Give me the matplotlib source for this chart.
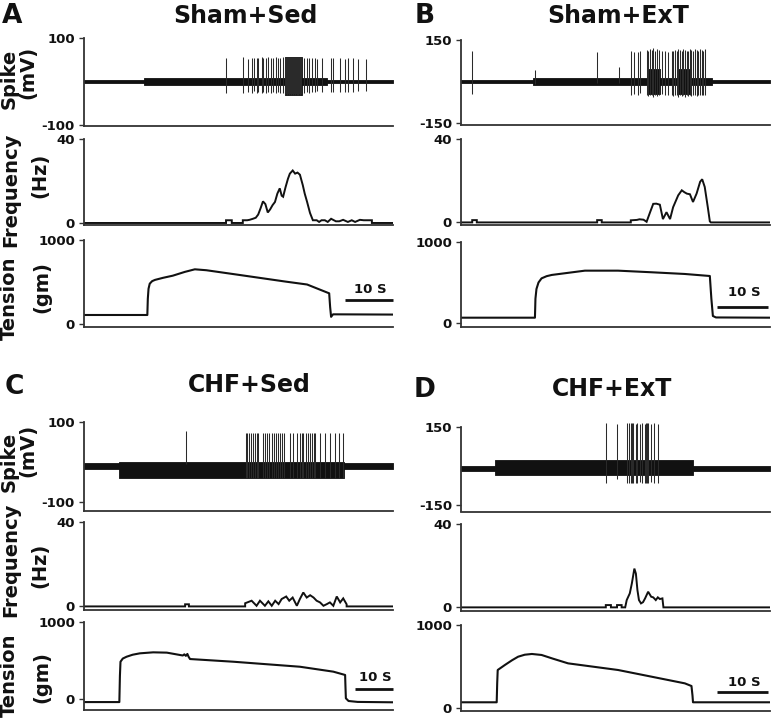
import matplotlib
matplotlib.use("Agg")
import matplotlib.pyplot as plt

plt.rcParams['font.family'] = ['DejaVu Sans']
plt.rcParams['font.weight'] = 'bold'

W, H = 771, 722

# ---------------- data ----------------
titles = ["Sham+Sed", "Sham+ExT", "CHF+Sed", "CHF+ExT"]
letters = ["A", "B", "C", "D"]
durations = [64.4, 60.6, 81.3, 60.6]          # s shown in each panel
spike_ticks = [(-100, 100), (-150, 150), (-100, 100), (-150, 150)]
freq_ticks = (0, 40)
tension_ticks = (0, 1000)

# baseline noise envelope segments: start, end, low, high (mV)
A_band_t0 = [0, 12.5, 50.6, 41.9]
A_band_t1 = [12.5, 50.6, 64.4, 45.4]
A_band_lo = [-3, -8, -3, -30]
A_band_hi = [3, 8, 3, 56]

B_band_t0 = [0, 14.1, 49.2, 36.4, 42.6]
B_band_t1 = [14.1, 49.2, 60.6, 39.0, 45.0]
B_band_lo = [-7, -14, -7, -45, -45]
B_band_hi = [7, 14, 7, 45, 45]

C_band_t0 = [0, 9.2, 68.4]
C_band_t1 = [9.2, 68.4, 81.3]
C_band_lo = [-17, -40, -17]
C_band_hi = [-3, 0, -3]

D_band_t0 = [0, 6.7, 45.5]
D_band_t1 = [6.7, 45.5, 60.6]
D_band_lo = [-18, -35, -18]
D_band_hi = [0, 23, 0]

# spikes: time (s), peak (mV), trough (mV)
A_spk_t = [29.6, 33.1, 34.2, 35.0, 35.4, 36.0, 36.3, 37.1, 37.3, 37.9, 38.3, 39.0, 39.4, 40.0,
           40.4, 40.8, 41.5, 41.9, 42.1, 42.3, 42.5, 42.7, 42.9, 43.1, 43.3, 43.5, 43.7, 43.9,
           44.1, 44.3, 44.5, 44.7, 44.9, 45.1, 45.3, 45.8, 46.5, 46.9, 47.5, 48.1, 48.5, 49.6,
           51.5, 51.9, 53.3, 54.4, 55.0, 56.0, 57.1, 58.8]
A_spk_up = [54, 56, 52, 55, 53, 55, 54, 56, 55, 53, 56, 54, 55, 56,
            54, 55, 56, 57, 56, 57, 56, 57, 56, 57, 56, 57, 56, 57,
            56, 57, 56, 57, 56, 57, 56, 55, 54, 55, 53, 54, 52, 55,
            53, 54, 53, 52, 54, 53, 52, 51]
A_spk_dn = [-26, -26, -24, -26, -22, -26, -25, -26, -24, -26, -25, -26, -24, -26,
            -25, -26, -26, -30, -29, -30, -29, -30, -29, -30, -29, -30, -29, -30,
            -29, -30, -29, -30, -29, -30, -29, -26, -24, -26, -25, -24, -22, -25,
            -24, -24, -23, -24, -24, -23, -22, -22]

B_spk_t = [2.2, 14.5, 26.7, 31.0, 33.3, 34.0, 34.8, 35.2, 36.4, 36.7, 37.1, 37.4, 37.7, 38.0,
           38.4, 38.9, 39.4, 40.0, 40.6, 41.3, 41.6, 42.0, 42.3, 42.6, 42.9, 43.3, 43.6, 43.9,
           44.3, 44.6, 44.9, 45.2, 45.5, 45.9, 46.2, 46.5, 46.9, 47.2, 47.5, 47.8]
B_spk_up = [110, 41, 107, 53, 110, 108, 105, 110, 115, 112, 118, 115, 120, 112,
            118, 115, 110, 112, 108, 110, 112, 115, 110, 118, 115, 112, 118, 115,
            112, 110, 118, 115, 112, 118, 115, 112, 118, 115, 110, 118]
B_spk_dn = [-45, -10, -5, -5, -50, -45, -48, -40, -50, -52, -48, -50, -55, -50,
            -52, -48, -45, -50, -48, -50, -52, -50, -48, -55, -50, -52, -50, -55,
            -50, -52, -50, -52, -48, -50, -52, -48, -50, -48, -50, -48]

C_spk_t = [26.8, 42.5, 43.0, 43.5, 43.9, 44.4, 45.0, 45.4, 45.9, 47.2, 47.6, 48.1, 48.8, 49.4,
           50.0, 50.5, 51.1, 51.6, 52.0, 52.5, 54.2, 55.1, 56.0, 56.7, 57.3, 57.7, 58.4, 59.0,
           59.5, 59.9, 60.4, 60.8, 62.1, 63.4, 64.7, 66.1, 67.2, 68.1]
C_spk_up = [77, 73, 72, 73, 72, 73, 72, 73, 72, 73, 72, 73, 72, 73,
            72, 73, 72, 73, 72, 73, 72, 73, 72, 73, 72, 73, 72, 73,
            72, 73, 72, 73, 72, 73, 72, 73, 72, 73]
C_spk_dn = [-5, -40, -40, -40, -40, -40, -40, -40, -40, -40, -40, -40, -40, -40,
            -40, -40, -40, -40, -40, -40, -40, -40, -40, -40, -40, -40, -40, -40,
            -40, -40, -40, -40, -40, -40, -40, -40, -40, -40]

D_spk_t = [28.4, 30.6, 32.6, 32.9, 33.3, 33.6, 33.8, 34.3, 34.6, 35.1, 35.4, 36.1, 36.3, 36.5,
           36.7, 37.2, 37.9, 38.7]
D_spk_up = [165, 160, 167, 165, 167, 165, 167, 163, 165, 162, 165, 163, 166, 165,
            167, 163, 165, 163]
D_spk_dn = [-67, -50, -67, -67, -67, -67, -67, -65, -67, -60, -67, -67, -67, -67,
            -65, -60, -67, -67]

# instantaneous frequency (Hz)
A_freq_t = [0, 29.6, 29.6, 30.8, 30.8, 33.1, 33.1, 34.0, 34.5, 35.2, 35.8, 36.3, 36.8, 37.3,
            37.8, 38.3, 38.8, 39.3, 39.8, 40.3, 40.8, 41.2, 41.5, 42.0, 42.5, 42.9, 43.5, 44.0,
            44.5, 45.0, 45.6, 46.0, 46.5, 47.1, 47.7, 48.5, 49.0, 49.5, 50.2, 50.8, 51.5, 52.5,
            53.2, 54.0, 55.0, 55.8, 56.5, 57.5, 58.3, 59.0, 60.0, 60.0, 64.4]
A_freq_v = [0, 0, 1.3, 1.3, 0, 0, 1.3, 1.3, 1.5, 2.0, 2.5, 4.0, 7.0, 10.3,
            9.0, 5.0, 6.5, 8.5, 10.0, 14.0, 16.5, 13.0, 12.5, 17.0, 21.0, 23.5, 25.0, 23.5,
            24.0, 23.0, 18.0, 14.0, 10.0, 4.8, 1.3, 1.3, 0.5, 1.3, 1.3, 0.5, 2.0, 0.8,
            0.8, 1.5, 0.5, 1.3, 0.5, 1.5, 1.3, 1.3, 1.3, 0, 0]

B_freq_t = [0, 2.2, 2.2, 3.1, 3.1, 26.7, 26.7, 27.6, 27.6, 33.3, 33.3, 34.5, 35.0, 35.8,
            36.4, 37.1, 37.7, 38.3, 39.0, 39.6, 40.3, 41.0, 41.6, 42.6, 43.3, 43.8, 44.3, 44.9,
            45.5, 46.2, 46.9, 47.3, 47.8, 48.4, 48.8, 49.0, 60.6]
B_freq_v = [0, 0, 1.1, 1.1, 0, 0, 1.1, 1.1, 0, 0, 1.0, 1.2, 1.5, 1.3,
            0.3, 5.0, 8.9, 9.0, 8.5, 1.6, 4.9, 1.6, 7.3, 13.0, 15.4, 14.5, 13.8, 13.5,
            9.8, 13.8, 19.5, 20.7, 17.0, 7.3, 0.5, 0, 0]

C_freq_t = [0, 26.6, 26.6, 27.6, 27.6, 42.4, 42.4, 44.1, 45.4, 46.3, 47.6, 48.5, 49.4, 50.3,
            51.2, 52.0, 53.2, 54.0, 54.9, 56.0, 56.8, 57.7, 58.6, 59.5, 60.4, 61.2, 62.1, 63.0,
            63.9, 64.7, 65.6, 66.5, 67.4, 68.2, 69.1, 69.1, 81.3]
C_freq_v = [0, 0, 1.0, 1.0, 0, 0, 1.5, 2.7, 0.3, 2.7, 0.3, 2.4, 0.3, 2.7,
            1.1, 3.5, 4.7, 2.7, 4.2, 0.3, 3.5, 6.6, 4.2, 5.3, 4.2, 2.7, 1.9, 0.3,
            1.1, 1.9, 0.3, 4.7, 1.9, 3.8, 1.0, 0, 0]

D_freq_t = [0, 28.4, 28.4, 29.4, 29.4, 30.6, 30.6, 31.5, 31.5, 32.2, 32.5, 33.1, 33.5, 34.0,
            34.3, 34.6, 34.9, 35.3, 35.7, 36.1, 36.7, 37.3, 37.7, 38.2, 38.6, 39.0, 39.5, 39.7, 60.6]
D_freq_v = [0, 0, 1.1, 1.1, 0, 0, 1.1, 1.1, 0, 0, 3.5, 6.7, 11.4, 18.6,
            16.2, 8.3, 3.5, 1.9, 2.5, 4.3, 7.5, 5.1, 4.8, 3.5, 4.8, 4.0, 4.3, 0, 0]

# muscle tension (gm)
A_ten_t = [0, 13.2, 13.3, 13.45, 13.7, 14.2, 14.8, 16.5, 18.5, 21.0, 23.1, 25.5, 32.5, 42.1,
           46.5, 51.1, 51.3, 51.5, 51.9, 64.4]
A_ten_v = [107, 107, 300, 420, 480, 510, 525, 550, 575, 620, 651, 640, 583, 504,
           470, 365, 200, 85, 115, 112]
B_ten_t = [0, 14.5, 14.6, 14.8, 15.2, 15.8, 16.8, 17.8, 24.3, 30.8, 37.4, 43.9, 48.8, 49.1,
           49.4, 50.0, 60.6]
B_ten_v = [65, 65, 300, 420, 500, 551, 578, 593, 646, 646, 626, 605, 580, 300,
           86, 68, 65]
C_ten_t = [0, 9.3, 9.45, 9.6, 10.2, 11.2, 12.8, 14.7, 18.2, 21.8, 25.3, 26.0, 26.4, 26.8,
           27.2, 27.5, 27.9, 39.3, 56.8, 65.6, 68.7, 68.8, 68.9, 69.6, 72.0, 81.3]
C_ten_v = [-40, -40, 300, 484, 525, 549, 575, 593, 606, 602, 571, 565, 580, 560,
           585, 550, 519, 484, 419, 355, 312, 150, 9, -26, -38, -43]
D_ten_t = [0, 7.0, 7.1, 7.2, 8.6, 10.0, 11.2, 12.5, 13.9, 15.8, 18.0, 21.0, 30.8, 37.4,
           43.9, 45.2, 45.4, 45.5, 60.6]
D_ten_v = [69, 69, 300, 458, 518, 575, 618, 642, 651, 639, 595, 538, 458, 377,
           297, 265, 150, 69, 69]

# 10 s scale bar: start (s), level (gm), label level (gm)
bar_t0 = [54.4, 50.2, 71.3, 50.2]
bar_len = 10
bar_y = [286, 198, 130, 193]
bar_label_y = [405, 370, 273, 313]

# ---------------- layout (pixels) ----------------
panel_x = [(84, 393), (461, 770), (84, 393), (461, 770)]
spike_rect = [(38, 126), (40, 125), (422, 510.5), (427, 511.5)]
freq_rect = [(139, 225.5), (139, 224.5), (522, 610), (524, 610.7)]
ten_rect = [(240, 327), (242, 327), (622, 710), (625, 711)]
spike_ylim = [(-102, 100), (-157, 150), (-121, 100), (-175, 150)]
freq_ylim = [(-1.2, 40), (-1.0, 40), (-1.7, 40), (-1.6, 40)]
ten_ylim = [(-36, 1000), (-50, 1000), (-143, 1000), (-36, 1000)]
letter_pos = [(12, 16), (425, 16), (14, 387), (425, 390)]
title_pos = [(245, 16), (618, 16), (249, 385), (612, 389)]

bands = [(A_band_t0, A_band_t1, A_band_lo, A_band_hi),
         (B_band_t0, B_band_t1, B_band_lo, B_band_hi),
         (C_band_t0, C_band_t1, C_band_lo, C_band_hi),
         (D_band_t0, D_band_t1, D_band_lo, D_band_hi)]
spikes = [(A_spk_t, A_spk_up, A_spk_dn), (B_spk_t, B_spk_up, B_spk_dn),
          (C_spk_t, C_spk_up, C_spk_dn), (D_spk_t, D_spk_up, D_spk_dn)]
freqs = [(A_freq_t, A_freq_v), (B_freq_t, B_freq_v), (C_freq_t, C_freq_v), (D_freq_t, D_freq_v)]
tens = [(A_ten_t, A_ten_v), (B_ten_t, B_ten_v), (C_ten_t, C_ten_v), (D_ten_t, D_ten_v)]

fig = plt.figure(figsize=(W / 100, H / 100), dpi=100)
INK = '#111111'


def add_ax(xr, yr):
    x0, x1 = xr
    t, b = yr
    return fig.add_axes([x0 / W, 1 - b / H, (x1 - x0) / W, (b - t) / H])


def style(ax, ticks, T, ylim):
    ax.set_xlim(0, T)
    ax.set_ylim(*ylim)
    for s in ('top', 'right'):
        ax.spines[s].set_visible(False)
    for s in ('left', 'bottom'):
        ax.spines[s].set_linewidth(1.3)
        ax.spines[s].set_color('#333333')
    ax.spines['left'].set_bounds(ylim[0], ticks[1])
    ax.set_xticks([])
    ax.set_yticks(list(ticks))
    ax.set_yticklabels([str(v) for v in ticks])
    ax.tick_params(axis='y', length=3.5, width=1.0, color='#333333', pad=3,
                   labelsize=9.5, labelcolor=INK)
    for lab in ax.get_yticklabels():
        lab.set_fontweight('bold')
    ax.patch.set_alpha(0)


for i in range(4):
    T = durations[i]
    # spike
    ax = add_ax(panel_x[i], spike_rect[i])
    style(ax, spike_ticks[i], T, spike_ylim[i])
    t0s, t1s, los, his = bands[i]
    for a, b, lo, hi in zip(t0s, t1s, los, his):
        ax.fill_between([a, b], [lo, lo], [hi, hi], color=INK, lw=0.6, edgecolor=INK)
    st, su, sd = spikes[i]
    ax.vlines(st, sd, su, colors='#2a2a2a', lw=0.75, clip_on=False)
    # frequency
    ax = add_ax(panel_x[i], freq_rect[i])
    style(ax, freq_ticks, T, freq_ylim[i])
    ax.plot(freqs[i][0], freqs[i][1], color=INK, lw=1.4, solid_joinstyle='miter')
    # tension
    ax = add_ax(panel_x[i], ten_rect[i])
    style(ax, tension_ticks, T, ten_ylim[i])
    ax.plot(tens[i][0], tens[i][1], color=INK, lw=1.5)
    ax.plot([bar_t0[i], bar_t0[i] + bar_len], [bar_y[i], bar_y[i]], color=INK, lw=2.0,
            clip_on=False, solid_capstyle='butt')
    ax.text(bar_t0[i] + bar_len / 2 + 0.3, bar_label_y[i], "10 S", ha='center', va='center',
            fontsize=9.5, fontweight='bold', color=INK)
    # headings
    lx, ly = letter_pos[i]
    fig.text(lx / W, 1 - ly / H, letters[i], ha='center', va='center', fontsize=19,
             fontweight='bold', color=INK)
    tx, ty = title_pos[i]
    fig.text(tx / W, 1 - ty / H, titles[i], ha='center', va='center', fontsize=17,
             fontweight='bold', color=INK)

# y-axis labels (left panels only)
ylabels = [("Spike", 9, 79), ("(mV)", 28, 72), ("Frequency", 11, 190), ("(Hz)", 40, 175),
           ("Tension", 9, 298), ("(gm)", 42, 287),
           ("Spike", 9, 462), ("(mV)", 28, 450), ("Frequency", 11, 560), ("(Hz)", 40, 565),
           ("Tension", 9, 675), ("(gm)", 42, 677)]
for txt, x, y in ylabels:
    fig.text(x / W, 1 - y / H, txt, rotation=90, ha='center', va='center', fontsize=14,
             fontweight='bold', color=INK)

fig.savefig("out.png", dpi=100)
